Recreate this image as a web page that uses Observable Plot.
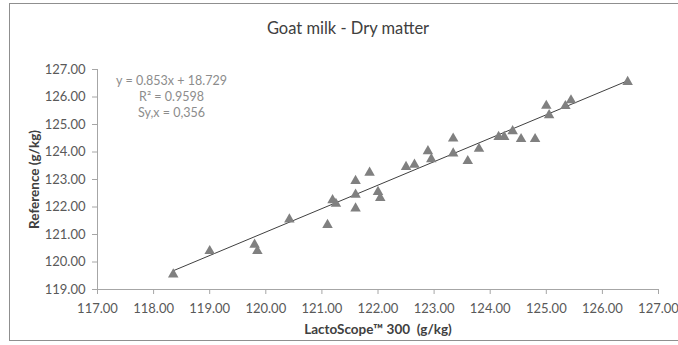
<!DOCTYPE html>
<html>
<head>
<meta charset="utf-8">
<script src="https://cdn.jsdelivr.net/npm/d3@7"></script>
<script src="https://cdn.jsdelivr.net/npm/@observablehq/plot@0.6"></script>
<style>
  html, body { margin: 0; padding: 0; background: #fff; }
  #wrap { position: relative; width: 678px; height: 345px; overflow: hidden; }
  #frame { position: absolute; left: 9px; top: 3px; width: 700px; height: 338px; border: 1px solid #8f8f8f; box-sizing: border-box; pointer-events: none; }
  #chart { position: absolute; left: 0; top: 0; }
</style>
</head>
<body>
<div id="wrap"><div id="chart"></div><div id="frame"></div></div>
<script>
const title = "Goat milk - Dry matter";
const xLabel = "LactoScope™ 300  (g/kg)";
const yLabel = "Reference (g/kg)";
const equationLines = ["y = 0.853x + 18.729", "R² = 0.9598", "Sy,x = 0,356"];
const slope = 0.853;
const intercept = 18.729;
const xTicks = [117, 118, 119, 120, 121, 122, 123, 124, 125, 126, 127];
const yTicks = [119, 120, 121, 122, 123, 124, 125, 126, 127];

const lactoscope = [118.35, 119.0, 119.8, 119.85, 120.42, 121.1, 121.19, 121.25, 121.6, 121.6, 121.6, 121.85, 122.0, 122.04, 122.5, 122.65, 122.89, 122.95, 123.34, 123.34, 123.6, 123.8, 124.15, 124.25, 124.4, 124.55, 124.8, 125.0, 125.05, 125.34, 125.44, 126.45];
const reference = [119.55, 120.4, 120.63, 120.4, 121.55, 121.35, 122.25, 122.12, 122.95, 122.45, 121.95, 123.25, 122.55, 122.33, 123.46, 123.54, 124.03, 123.74, 124.49, 123.95, 123.67, 124.12, 124.55, 124.55, 124.76, 124.47, 124.47, 125.68, 125.34, 125.67, 125.88, 126.55];

const points = lactoscope.map((x, i) => ({x, y: reference[i]}));
const xMin = d3.min(lactoscope), xMax = d3.max(lactoscope);
const trend = [xMin, xMax].map(x => ({x, y: slope * x + intercept}));

const font = "Lato, 'Liberation Sans', sans-serif";
const axisColor = "#a6a6a6";
const fmt = d3.format(".2f");

const chart = Plot.plot({
  width: 678,
  height: 345,
  marginLeft: 97,
  marginRight: 20,
  marginTop: 69,
  marginBottom: 56,
  style: {fontFamily: font, fontSize: "13px", color: "#595959", background: "transparent", overflow: "visible"},
  x: {domain: [117, 127], label: null},
  y: {domain: [119, 127], label: null},
  marks: [
    Plot.axisX({ticks: xTicks, tickFormat: fmt, tickSize: 5, tickPadding: 9, stroke: axisColor, fill: "#595959", label: null}),
    Plot.axisY({ticks: yTicks, tickFormat: fmt, tickSize: 5, tickPadding: 7, stroke: axisColor, fill: "#595959", label: null}),
    Plot.ruleY([119], {stroke: axisColor}),
    Plot.ruleX([117], {stroke: axisColor}),
    Plot.line(trend, {x: "x", y: "y", stroke: "#404040", strokeWidth: 1}),
    Plot.dot(points, {x: "x", y: "y", symbol: "triangle", r: 3.9, fill: "#808080", stroke: "none"}),
    ...equationLines.map((line, i) =>
      Plot.text([line], {frameAnchor: "top-left", dx: 74, dy: 11 + i * 16, fill: "#8c8c8c", fontSize: 12.5, textAnchor: "middle", lineAnchor: "middle"})
    ),
    Plot.text([title], {frameAnchor: "top", dx: -30, dy: -41, fill: "#404040", fontSize: 16.5, lineAnchor: "middle"}),
    Plot.text([xLabel], {frameAnchor: "bottom", dy: 40, fill: "#404040", fontSize: 13.5, fontWeight: "bold", lineAnchor: "middle"}),
    Plot.text([yLabel], {frameAnchor: "left", dx: -63, rotate: -90, fill: "#404040", fontSize: 13.5, fontWeight: "bold", textAnchor: "middle", lineAnchor: "middle"})
  ]
});
document.getElementById("chart").appendChild(chart);
</script>
</body>
</html>
